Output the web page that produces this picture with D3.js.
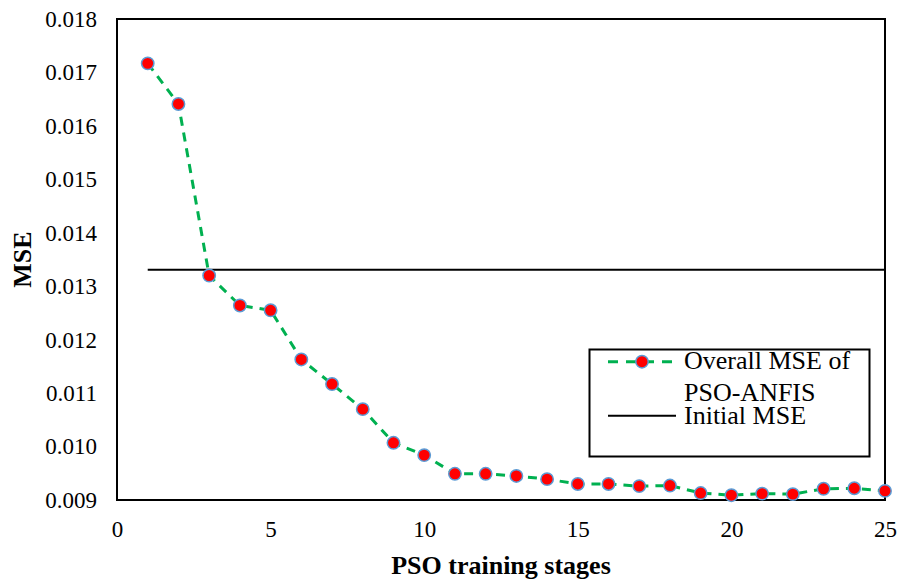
<!DOCTYPE html>
<html>
<head>
<meta charset="utf-8">
<script src="https://cdn.jsdelivr.net/npm/d3@7"></script>
<style>
  body { margin: 0; background: #fff; }
  svg { display: block; }
  svg text { font-family: "Liberation Serif", "Times New Roman", serif; fill: #000; }
</style>
</head>
<body>
<svg id="chart" width="900" height="580"></svg>
<script>
// chart data
const stages = [1,2,3,4,5,6,7,8,9,10,11,12,13,14,15,16,17,18,19,20,21,22,23,24,25];
const overallMSE = [0.01717, 0.01641, 0.01320, 0.01264, 0.01255, 0.01163, 0.01117, 0.01070,
  0.01007, 0.00984, 0.00949, 0.00949, 0.00945, 0.00939, 0.00930, 0.00930, 0.00926, 0.00927,
  0.00913, 0.00909, 0.00912, 0.00911, 0.00921, 0.00922, 0.00917];
const initialMSE = 0.01331;
const xTicks = [0, 5, 10, 15, 20, 25];
const yTicks = [0.009, 0.010, 0.011, 0.012, 0.013, 0.014, 0.015, 0.016, 0.017, 0.018];
const legendLabels = [["Overall MSE of", "PSO-ANFIS"], ["Initial MSE"]];

const svg = d3.select('#chart');
const width = 900;
const height = 580;
const margin = ({top: 19, right: 15, bottom: 80, left: 117});

const x = d3.scaleLinear()
  .domain([0, 25])
  .range([margin.left, width - margin.right]);

const y = d3.scaleLinear()
  .domain([0.009, 0.018])
  .range([height - margin.bottom, margin.top]);

const points = stages.map((s, i) => ({x: s, y: overallMSE[i]}));

//plot frame
svg.append("rect")
  .attr("x", x(0))
  .attr("y", y(0.018))
  .attr("width", x(25) - x(0))
  .attr("height", y(0.009) - y(0.018))
  .attr("fill", "none")
  .attr("stroke", "#000")
  .attr("stroke-width", 2);

//axes, labels only
const xAxis = svg.append("g")
  .attr("transform", `translate(0,${y(0.009)})`)
  .call(d3.axisBottom(x).tickValues(xTicks).tickSize(0).tickPadding(21).tickFormat(d3.format("d")));

const yAxis = svg.append("g")
  .attr("transform", `translate(${x(0)},0)`)
  .call(d3.axisLeft(y).tickValues(yTicks).tickSize(0).tickPadding(20).tickFormat(d3.format(".3f")));

[xAxis, yAxis].forEach(g => {
  g.attr("font-family", null).attr("font-size", null);
  g.select(".domain").remove();
  g.selectAll("text")
    .style("font-family", '"Liberation Serif", "Times New Roman", serif')
    .style("font-size", "23px")
    .style("fill", "#000");
});

//initial MSE reference line
svg.append("line")
  .attr("x1", x(stages[0]))
  .attr("x2", x(stages[stages.length - 1]))
  .attr("y1", y(initialMSE))
  .attr("y2", y(initialMSE))
  .attr("stroke", "#000")
  .attr("stroke-width", 2);

//dashed series
const line = d3.line()
  .x(d => x(d.x))
  .y(d => y(d.y));

svg.append("path")
  .attr("d", line(points))
  .attr("fill", "none")
  .attr("stroke", "#00B050")
  .attr("stroke-width", 3)
  .attr("stroke-dasharray", "9,7");

svg.append("g")
  .selectAll("circle")
  .data(points)
  .join("circle")
    .attr("cx", d => x(d.x))
    .attr("cy", d => y(d.y))
    .attr("r", 6.2)
    .attr("fill", "#FF0000")
    .attr("stroke", "#5B9BD5")
    .attr("stroke-width", 1.5);

//axis titles
svg.append("text")
  .attr("x", (x(0) + x(25)) / 2)
  .attr("y", 574)
  .attr("text-anchor", "middle")
  .style("font-size", "26px")
  .style("font-weight", "bold")
  .text("PSO training stages");

svg.append("text")
  .attr("transform", `translate(31,${(y(0.009) + y(0.018)) / 2}) rotate(-90)`)
  .attr("text-anchor", "middle")
  .style("font-size", "26px")
  .style("font-weight", "bold")
  .text("MSE");

//legend
const legend = svg.append("g");
legend.append("rect")
  .attr("x", 589.5)
  .attr("y", 349.5)
  .attr("width", 280)
  .attr("height", 107)
  .attr("fill", "#fff")
  .attr("stroke", "#000")
  .attr("stroke-width", 2);

legend.append("line")
  .attr("x1", 608).attr("x2", 675)
  .attr("y1", 361.7).attr("y2", 361.7)
  .attr("stroke", "#00B050")
  .attr("stroke-width", 3)
  .attr("stroke-dasharray", "10,8");

legend.append("circle")
  .attr("cx", 642).attr("cy", 361.7)
  .attr("r", 6.2)
  .attr("fill", "#FF0000")
  .attr("stroke", "#5B9BD5")
  .attr("stroke-width", 1.5);

legend.append("line")
  .attr("x1", 608).attr("x2", 676)
  .attr("y1", 415.7).attr("y2", 415.7)
  .attr("stroke", "#000")
  .attr("stroke-width", 2);

const baselines = [[369.3, 400.5], [424]];
legendLabels.forEach((lines, i) => {
  lines.forEach((t, j) => {
    legend.append("text")
      .attr("x", 684)
      .attr("y", baselines[i][j])
      .style("font-size", "26px")
      .text(t);
  });
});
</script>
</body>
</html>
